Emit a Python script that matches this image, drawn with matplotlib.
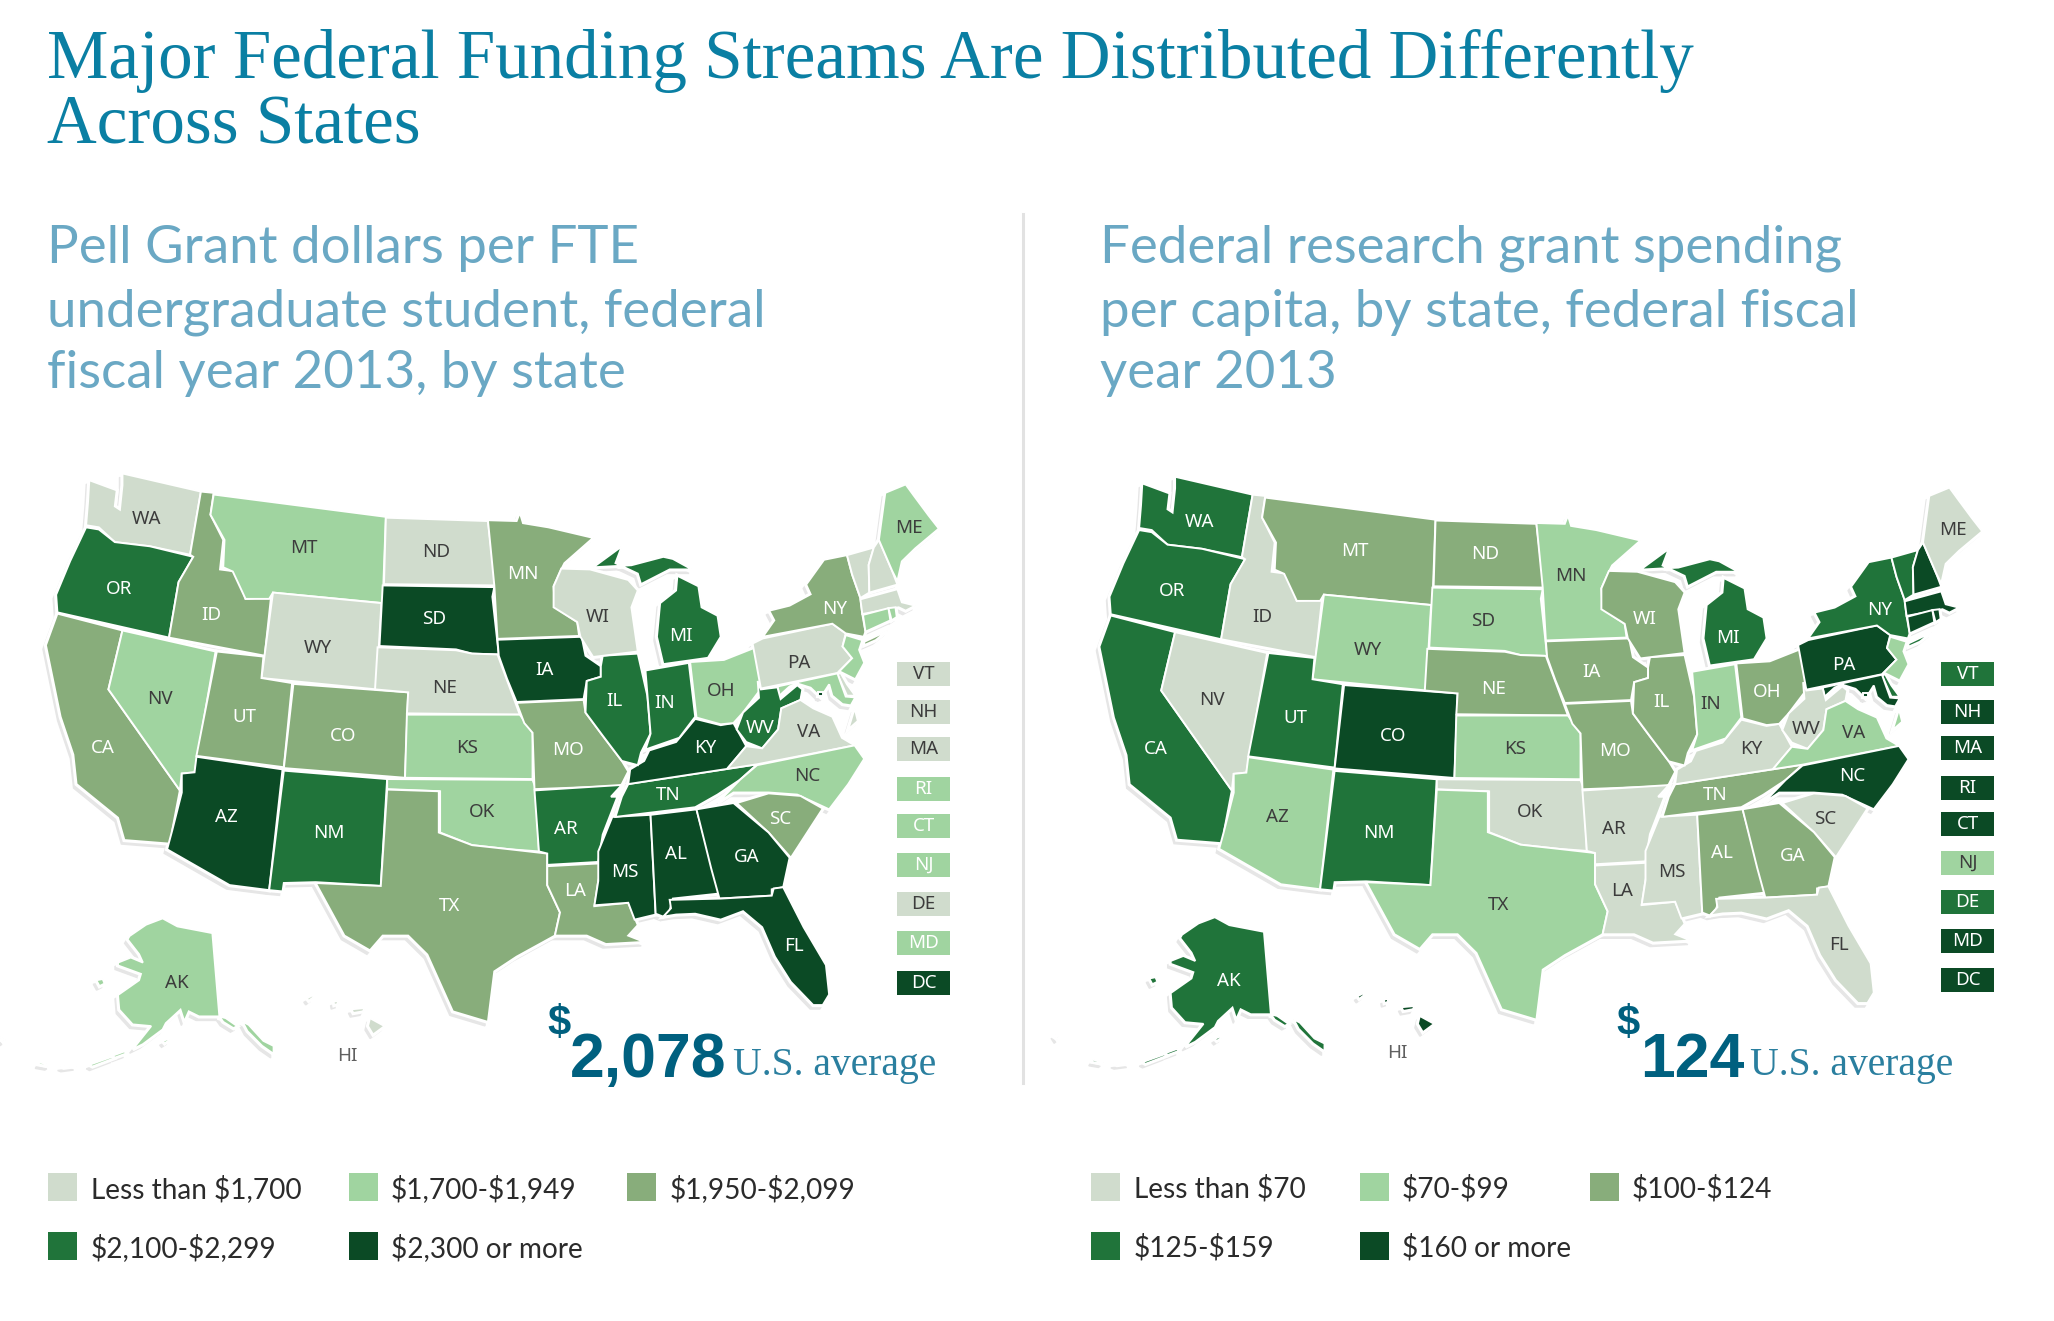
import matplotlib
matplotlib.use("Agg")
import matplotlib.pyplot as plt
from matplotlib.patches import Polygon, Rectangle

TITLE_LINES = ["Major Federal Funding Streams Are Distributed Differently", "Across States"]
LEFT_SUB = ["Pell Grant dollars per FTE", "undergraduate student, federal", "fiscal year 2013, by state"]
RIGHT_SUB = ["Federal research grant spending", "per capita, by state, federal fiscal", "year 2013"]

COLORS = ["#d0dccd", "#a0d4a0", "#88ad7b", "#20743a", "#0b4a25"]

# class index per state (0 = lightest bin)
PELL = dict(WA=0, OR=3, CA=2, NV=1, ID=2, MT=1, WY=0, UT=2, CO=2, AZ=4, NM=3, ND=0, SD=4, NE=0, KS=1, OK=1, TX=2,
            MN=2, IA=4, MO=2, AR=3, LA=2, WI=0, IL=3, MI=3, IN=3, OH=1, KY=4, TN=3, MS=4, AL=4, GA=4, FL=4, SC=2,
            NC=1, VA=0, WV=3, PA=0, NY=2, ME=1, VT=0, NH=0, MA=0, RI=1, CT=1, NJ=1, DE=0, MD=1, DC=4, AK=1, HI=0)
RESEARCH = dict(WA=3, OR=3, CA=3, NV=0, ID=0, MT=2, WY=1, UT=3, CO=4, AZ=1, NM=3, ND=2, SD=1, NE=2, KS=1, OK=0, TX=1,
                MN=1, IA=2, MO=2, AR=0, LA=0, WI=2, IL=2, MI=3, IN=1, OH=2, KY=0, TN=2, MS=0, AL=2, GA=2, FL=0, SC=0,
                NC=4, VA=1, WV=0, PA=4, NY=3, ME=0, VT=3, NH=4, MA=4, RI=4, CT=4, NJ=1, DE=3, MD=4, DC=4, AK=3, HI=4)

BOX_STATES = ["VT", "NH", "MA", "RI", "CT", "NJ", "DE", "MD", "DC"]
LEFT_LEGEND = ["Less than $1,700", "$1,700-$1,949", "$1,950-$2,099", "$2,100-$2,299", "$2,300 or more"]
RIGHT_LEGEND = ["Less than $70", "$70-$99", "$100-$124", "$125-$159", "$160 or more"]

# state outlines in one shared map space
SHAPES = {
    "WA": [[(140,48),(183,72),(180,110),(188,118),(192,60),(192,32),(315,75),(298,225),(235,205),(180,195),(155,160),(135,155),(138,100)]],
    "OR": [[(135,160),(155,165),(180,195),(235,205),(303,230),(280,290),(265,422),(90,362),(88,320),(110,240)]],
    "CA": [[(90,365),(192,405),(170,545),(282,785),(270,880),(270,912),(195,903),(185,850),(120,770),(115,700),(95,610),(72,440)]],
    "NV": [[(192,405),(338,455),(310,700),(305,742),(285,745),(282,785),(170,545)]],
    "ID": [[(315,75),(335,78),(330,130),(350,190),(345,260),(370,265),(385,330),(425,325),(415,465),(265,422),(280,290),(303,230),(298,225)]],
    "MT": [[(335,82),(605,135),(600,340),(428,315),(422,330),(385,330),(365,265),(350,255),(352,190),(330,130)]],
    "WY": [[(428,315),(598,340),(590,545),(410,518)]],
    "UT": [[(340,455),(413,467),(410,518),(458,530),(445,730),(308,703)]],
    "CO": [[(460,532),(640,552),(635,755),(445,732)]],
    "AZ": [[(308,705),(443,735),(422,1022),(360,1010),(262,925),(270,880),(285,790),(285,745),(305,742)]],
    "NM": [[(445,738),(607,758),(597,1012),(495,1003),(445,1005),(443,1025),(422,1022)]],
    "ND": [[(605,137),(765,145),(777,298),(602,295)]],
    "SD": [[(600,298),(775,302),(772,325),(782,462),(740,460),(715,450),(595,442)]],
    "NE": [[(592,445),(715,452),(740,460),(780,462),(815,605),(638,602),(640,552),(588,545)]],
    "KS": [[(638,605),(815,605),(835,648),(835,758),(635,755)]],
    "OK": [[(607,758),(835,760),(840,780),(845,930),(800,925),(740,915),(690,885),(690,787),(607,782)]],
    "TX": [[(607,783),(688,787),(688,885),(740,915),(800,925),(858,935),(858,1010),(878,1075),(870,1130),(810,1180),(775,1215),(765,1335),(710,1310),(670,1175),(640,1130),(600,1130),(580,1165),(540,1130),(495,1005),(597,1012)]],
    "MN": [[(765,143),(810,145),(815,125),(820,150),(860,160),(930,185),(885,245),(880,260),(868,300),(870,350),(905,385),(908,418),(780,425),(775,298)]],
    "IA": [[(780,427),(912,420),(918,465),(942,490),(942,515),(920,525),(915,568),(810,575),(795,520),(782,465)]],
    "MO": [[(810,577),(915,570),(918,600),(945,655),(975,715),(985,740),(975,770),(958,795),(962,775),(838,782),(835,648),(822,625)]],
    "AR": [[(838,785),(975,772),(958,800),(968,800),(945,890),(938,955),(858,962),(858,935),(845,930)]],
    "LA": [[(858,965),(945,958),(938,1000),(932,1060),(985,1052),(1000,1105),(985,1130),(1010,1145),(950,1150),(920,1130),(870,1130),(878,1075),(858,1010)]],
    "MS": [[(960,848),(1020,843),(1028,1080),(995,1092),(985,1052),(932,1058),(938,1000),(938,930)]],
    "AL": [[(1020,843),(1092,830),(1128,1030),(1055,1042),(1050,1070),(1040,1085),(1028,1078)]],
    "TN": [[(985,770),(1187,723),(1160,760),(1125,795),(1090,825),(965,848),(975,800)]],
    "KY": [[(988,735),(1010,715),(1018,690),(1060,670),(1090,615),(1130,630),(1150,625),(1170,680),(1140,734),(1015,763),(985,770)]],
    "IL": [[(945,465),(1000,460),(1015,560),(1020,650),(1005,695),(1000,725),(975,715),(945,655),(918,600),(920,525),(942,515),(942,490)]],
    "IN": [[(1012,500),(1080,482),(1090,610),(1065,660),(1012,688),(1020,650)]],
    "OH": [[(1082,480),(1135,475),(1185,445),(1195,540),(1165,600),(1150,625),(1130,628),(1092,612)]],
    "MI": [[(1062,275),(1095,300),(1100,350),(1125,370),(1130,420),(1110,470),(1040,485),(1030,420),(1035,340),(1060,310)],
           [(930,255),(975,205),(965,245),(1000,270),(1005,295),(1050,260),(1085,260),(1055,235),(1040,230),(990,250)]],
    "WI": [[(880,258),(925,260),(985,285),(1000,310),(990,350),(1000,455),(930,468),(910,420),(905,385),(868,350),(868,300)]],
    "PA": [[(1180,436),(1196,424),(1305,389),(1326,412),(1321,443),(1336,471),(1313,506),(1193,543)]],
    "NY": [[(1196,420),(1214,381),(1206,358),(1238,346),(1271,319),(1264,296),(1292,237),(1328,226),(1336,272),(1349,328),(1352,366),(1357,408),(1354,420),(1326,412),(1305,389)],
           [(1355,432),(1391,406),(1373,428),(1355,440)]],
    "VT": [[(1328,226),(1370,208),(1362,249),(1363,315),(1349,328),(1336,272)]],
    "NH": [[(1370,208),(1378,190),(1399,264),(1407,296),(1363,315),(1362,249)]],
    "ME": [[(1378,190),(1388,78),(1420,58),(1433,85),(1456,132),(1472,163),(1435,210),(1414,241),(1407,288),(1399,264)]],
    "MA": [[(1349,331),(1407,307),(1414,338),(1435,346),(1420,358),(1409,350),(1352,366)]],
    "CT": [[(1353,368),(1393,352),(1396,381),(1357,408)]],
    "RI": [[(1393,352),(1404,350),(1406,373),(1398,381)]],
    "NJ": [[(1326,416),(1352,428),(1347,451),(1355,482),(1341,521),(1316,502),(1336,471),(1321,443)]],
    "DE": [[(1313,509),(1318,506),(1328,533),(1341,560),(1328,560)]],
    "MD": [[(1219,538),(1313,507),(1326,562),(1341,564),(1334,583),(1321,580),(1305,560),(1300,533),(1287,564),(1271,541),(1250,531),(1238,538),(1222,560)]],
    "DC": [[(1283,552),(1291,552),(1291,560),(1283,560)]],
    "WV": [[(1188,525),(1193,545),(1219,540),(1224,568),(1250,535),(1258,545),(1255,570),(1225,590),(1220,640),(1195,685),(1170,670),(1155,640),(1165,600),(1190,565)]],
    "VA": [[(1140,734),(1170,680),(1195,685),(1220,640),(1225,590),(1255,570),(1275,590),(1305,610),(1320,660),(1340,678),(1187,723)],
           [(1340,590),(1345,620),(1330,640)]],
    "NC": [[(1187,725),(1340,678),(1355,710),(1330,770),(1300,830),(1250,795),(1205,790),(1150,790),(1125,815),(1160,760)]],
    "SC": [[(1155,815),(1205,792),(1255,798),(1290,828),(1240,945),(1205,885)]],
    "GA": [[(1092,830),(1150,815),(1205,885),(1238,945),(1228,1015),(1210,1020),(1210,1035),(1128,1042),(1115,970)]],
    "FL": [[(1050,1045),(1130,1042),(1210,1035),(1213,1018),(1228,1015),(1260,1110),(1295,1200),(1300,1270),(1290,1295),(1275,1295),(1240,1240),(1215,1180),(1195,1110),(1165,1072),(1130,1092),(1090,1078),(1060,1080),(1040,1085),(1052,1065)]],
    "AK": [[(203,1131),(229,1104),(255,1089),(278,1108),(333,1124),(344,1322),(312,1322),(296,1310),(289,1334),(283,1306),(260,1338),(255,1353),(224,1388),(208,1400),(237,1345),(208,1341),(187,1306),(185,1271),(218,1236),(221,1221),(185,1201),(185,1194),(205,1182),(224,1194),(218,1174),(200,1139)],
           [(344,1322),(354,1326),(372,1345),(366,1350),(350,1335)],
           [(380,1334),(390,1342),(413,1380),(429,1392),(429,1411),(411,1392),(388,1357)],
           [(177,1415),(195,1405),(198,1410),(180,1420)],
           [(140,1437),(175,1418),(178,1422),(145,1441)],
           [(95,1441),(115,1437),(120,1440),(100,1444)],
           [(62,1431),(78,1437),(75,1440),(60,1436)],
           [(0,1370),(8,1378),(5,1382)],
           [(255,1381),(262,1376),(266,1378),(258,1386)],
           [(151,1236),(161,1233),(164,1244),(156,1250)]],
    "HI": [[(580,1326),(603,1345),(585,1365),(577,1345)],
           [(481,1279),(491,1271),(491,1277),(484,1285)],
           [(523,1287),(529,1285),(530,1292),(524,1295)],
           [(551,1305),(572,1302),(569,1310),(554,1314)]],
}

LABELS = dict(WA=(230,140), OR=(187,307), CA=(161,685), NV=(250,567), ID=(331,369), MT=(477,210), WY=(498,447),
              UT=(383,610), CO=(538,655), AZ=(355,848), NM=(515,887), ND=(684,218), SD=(680,378), NE=(697,542),
              KS=(732,685), OK=(755,837), TX=(705,1060), MN=(820,270), IA=(853,500), MO=(890,690), AR=(888,877),
              LA=(901,1025), WI=(937,374), IL=(963,573), MI=(1068,419), IN=(1042,578), OH=(1131,549), KY=(1105,685),
              TN=(1048,795), MS=(980,980), AL=(1060,935), GA=(1171,943), FL=(1245,1155), SC=(1223,853), NC=(1266,750),
              VA=(1268,647), WV=(1192,637), PA=(1253,483), NY=(1309,353), ME=(1425,161), AK=(277,1243), HI=(545,1415))

SANS = ["Lato", "DejaVu Sans"]
LABEL_FONT = ["Noto Sans", "DejaVu Sans"]
SERIF = ["Liberation Serif", "DejaVu Serif"]
BOLD = ["Liberation Sans", "DejaVu Sans"]


def draw_map(ax, classes, sx, ox, sy, oy, box_x, box_tops, white_light_boxes):
    def conv(pts, dx=0, dy=0):
        return [(sx * x + ox + dx, sy * y + oy + dy) for x, y in pts]

    for parts in SHAPES.values():
        for part in parts:
            ax.add_patch(Polygon(conv(part, -3, 4), closed=True, fc="#e6e6e6", ec="#e6e6e6", lw=1, zorder=1))
    for parts in SHAPES.values():
        for part in parts:
            ax.add_patch(Polygon(conv(part), closed=True, fc="white", ec="white", lw=3, zorder=2))
    for st, parts in SHAPES.items():
        for part in parts:
            ax.add_patch(Polygon(conv(part), closed=True, fc=COLORS[classes[st]], ec="white", lw=1.4, zorder=3))
    for st, (x, y) in LABELS.items():
        col = "#3c3c3c" if classes[st] < 2 else "white"
        if st == "HI":
            col = "#606060"
        ax.text(sx * x + ox, sy * y + oy, st, ha="center", va="center", color=col, fontsize=13.5,
                family=LABEL_FONT, zorder=4)
    for st, top in zip(BOX_STATES, box_tops):
        c = classes[st]
        ax.add_patch(Rectangle((box_x, top), 53, 24, fc=COLORS[c], ec="none", zorder=3))
        col = "#3c3c3c" if c < 2 else "white"
        if white_light_boxes and c == 1:
            col = "white"
        ax.text(box_x + 26.5, top + 12, st, ha="center", va="center", color=col, fontsize=13.5,
                family=LABEL_FONT, zorder=4)


def draw_legend(ax, labels, box_xs, text_xs):
    rows = [0, 0, 0, 1, 1]
    cols = [0, 1, 2, 0, 1]
    for lab, r, c, i in zip(labels, rows, cols, range(5)):
        top = [1173, 1232][r]
        ax.add_patch(Rectangle((box_xs[c], top), 29, 28, fc=COLORS[i], ec="none"))
        ax.text(text_xs[c], top + 16, lab, ha="left", va="center", color="#2b2b2b", fontsize=20.2, family=SANS,
                parse_math=False)


fig = plt.figure(figsize=(20.54, 13.21), dpi=100)
ax = fig.add_axes([0, 0, 1, 1])
ax.set_xlim(0, 2054)
ax.set_ylim(1321, 0)
ax.axis("off")

for line, base in zip(TITLE_LINES, [78, 143]):
    ax.text(47, base, line, color="#0a7fa3", fontsize=49.7, family=SERIF, ha="left", va="baseline")
for x, lines in [(47, LEFT_SUB), (1100, RIGHT_SUB)]:
    for line, base in zip(lines, [263, 327, 388]):
        ax.text(x, base, line, color="#6aa8c4", fontsize=38, family=SANS, ha="left", va="baseline")

ax.plot([1023, 1023], [214, 1083], color="#e2e2e2", lw=2.2)

draw_map(ax, PELL, 0.6378, 0, 0.4209, 460, 897,
         [662, 700, 737, 777, 814, 853, 892, 931, 971], True)
draw_map(ax, RESEARCH, 0.6306, 1054, 0.4167, 463.4, 1941,
         [662, 700, 736, 776, 812, 851, 890, 929, 968], False)

# big averages
for x, txt in [(547, "$"), (1616, "$")]:
    ax.text(x, 1035, txt, color="#00607f", fontsize=30, family=BOLD, fontweight="bold", ha="left", va="baseline",
            parse_math=False)
for x, txt in [(570, "2,078"), (1640, "124")]:
    ax.text(x, 1077, txt, color="#00607f", fontsize=45, family=BOLD, fontweight="bold", ha="left", va="baseline")
for x in [733, 1750]:
    ax.text(x, 1075, "U.S. average", color="#2a7f9f", fontsize=28.5, family=SERIF, ha="left", va="baseline")

draw_legend(ax, LEFT_LEGEND, [48, 349, 627], [91, 391, 670])
draw_legend(ax, RIGHT_LEGEND, [1091, 1360, 1590], [1134, 1402, 1632])

fig.savefig("out.png", dpi=100, facecolor="white")
